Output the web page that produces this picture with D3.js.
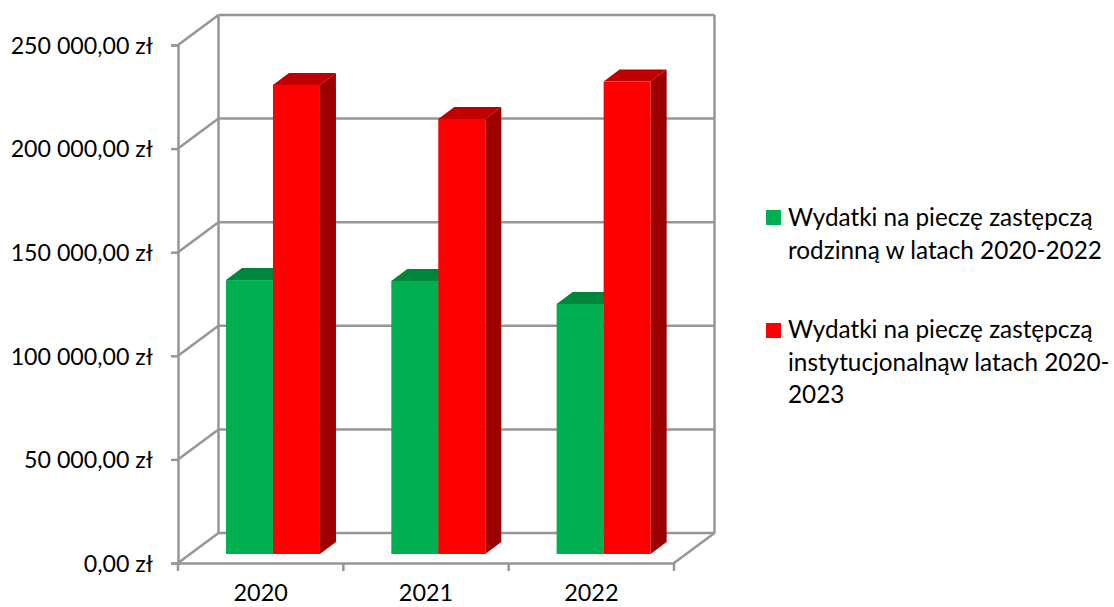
<!DOCTYPE html>
<html>
<head>
    <meta charset="utf-8">
    <title>Wydatki na pieczę zastępczą</title>
    <style>
        html, body { margin: 0; padding: 0; background: #fff; overflow: hidden; }
        text { font-family: Lato, "Open Sans", sans-serif; fill: #000; }
    </style>
</head>
<body>
<div id="chart"></div>
<script src="https://d3js.org/d3.v7.min.js"></script>
<script>
// values
var years = ["2020", "2021", "2022"]
var rodzinna = [132200, 131800, 120700]
var instytucjonalna = [226400, 210000, 228000]
var yTicks = [0, 50000, 100000, 150000, 200000, 250000]
var seriesNames = ["rodzinna", "instytucjonalna"]
var legendLines = [
    ["Wydatki na pieczę zastępczą", "rodzinną w latach 2020-2022"],
    ["Wydatki na pieczę zastępczą", "instytucjonalnąw latach 2020-", "2023"]
]

var width = 1114, height = 607
var gray = "#969696"
var colors = {
    rodzinna: {front: "#00b050", top: "#00853c", side: "#006f32"},
    instytucjonalna: {front: "#ff0000", top: "#c00000", side: "#9c0000"}
}
// 3d box offsets
var wall = {dx: 40.5, dy: -30}
var floor = {dx: 12.3, dy: -9}
var bar = {dx: 16, dy: -12}

var svg = d3.select("#chart").append("svg")
    .attr("width", width)
    .attr("height", height)

var x = d3.scaleBand().domain(years).range([178, 674])
var x1 = d3.scaleBand().domain(seriesNames).range([0, 94])
var y = d3.scaleLinear().domain([0, 250000]).range([563, 45])

var locale = d3.formatLocale({decimal: ",", thousands: "\u00a0", grouping: [3], currency: ["", ""]})
var money = locale.format(",.2f")

// back wall + left wall grid
var grid = svg.append("g").attr("fill", "none").attr("stroke", gray).attr("stroke-width", 2.5)
grid.selectAll(".back").data(yTicks).enter().append("line")
    .attr("x1", 178 + wall.dx).attr("x2", 674 + wall.dx)
    .attr("y1", function(d) { return y(d) + wall.dy })
    .attr("y2", function(d) { return y(d) + wall.dy })
grid.selectAll(".side").data(yTicks).enter().append("line")
    .attr("x1", 178).attr("x2", 178 + wall.dx)
    .attr("y1", function(d) { return y(d) })
    .attr("y2", function(d) { return y(d) + wall.dy })
grid.append("line")
    .attr("x1", 178 + wall.dx).attr("x2", 178 + wall.dx)
    .attr("y1", y(250000) + wall.dy).attr("y2", y(0) + wall.dy)
grid.append("line")
    .attr("x1", 674 + wall.dx).attr("x2", 674 + wall.dx)
    .attr("y1", y(250000) + wall.dy).attr("y2", y(0) + wall.dy)
grid.append("line")
    .attr("x1", 674).attr("x2", 674 + wall.dx)
    .attr("y1", y(0)).attr("y2", y(0) + wall.dy)

// axes
var yAxis = d3.axisLeft(y)
    .tickValues(yTicks)
    .tickSize(7)
    .tickPadding(18)
    .tickFormat(function(d) { return money(d) + "\u00a0zł" })
var xAxis = d3.axisBottom(x).tickSize(0).tickPadding(21)

var gy = svg.append("g").attr("transform", "translate(178,0)").call(yAxis)
var gx = svg.append("g").attr("transform", "translate(0,563)").call(xAxis)
gy.selectAll("line, path").attr("stroke", gray).attr("stroke-width", 2.5)
gx.selectAll("path").attr("stroke", gray).attr("stroke-width", 2.5)
gy.selectAll("text").style("font-size", "23.2px").attr("dy", "0.36em")
gx.selectAll("text").style("font-size", "23.4px")

// ticks between the categories on the x axis
svg.selectAll(".xtick").data(years.concat(["end"])).enter().append("line")
    .attr("x1", function(d, i) { return x.range()[0] + i * x.step() })
    .attr("x2", function(d, i) { return x.range()[0] + i * x.step() })
    .attr("y1", 563).attr("y2", 571)
    .attr("stroke", gray).attr("stroke-width", 2.5)

// bars, each as front + top + side
var rows = []
years.forEach(function(yr, i) {
    rows.push({year: yr, name: "rodzinna", value: rodzinna[i]})
    rows.push({year: yr, name: "instytucjonalna", value: instytucjonalna[i]})
})
function pts(a) { return a.map(function(p) { return p.join(",") }).join(" ") }
var bars = svg.selectAll(".bar").data(rows).enter().append("g")
    .attr("transform", function(d) {
        var groupLeft = x(d.year) + (x.bandwidth() - 94) / 2 + floor.dx
        return "translate(" + (groupLeft + x1(d.name)) + "," + floor.dy + ")"
    })
bars.append("polygon")
    .attr("fill", function(d) { return colors[d.name].top })
    .attr("points", function(d) {
        var w = x1.bandwidth(), t = y(d.value)
        return pts([[0, t], [bar.dx, t + bar.dy], [w + bar.dx, t + bar.dy], [w, t]])
    })
bars.append("polygon")
    .attr("fill", function(d) { return colors[d.name].side })
    .attr("points", function(d) {
        var w = x1.bandwidth(), t = y(d.value), b = y(0)
        return pts([[w, t], [w + bar.dx, t + bar.dy], [w + bar.dx, b + bar.dy], [w, b]])
    })
bars.append("rect")
    .attr("fill", function(d) { return colors[d.name].front })
    .attr("x", 0)
    .attr("y", function(d) { return y(d.value) })
    .attr("width", x1.bandwidth())
    .attr("height", function(d) { return y(0) - y(d.value) })

// legend
var legendTop = [210, 323]
var legendBase = [226, 338]
var legend = svg.selectAll(".legend").data(seriesNames).enter().append("g")
legend.append("rect")
    .attr("x", 766)
    .attr("y", function(d, i) { return legendTop[i] })
    .attr("width", 15).attr("height", 15)
    .attr("fill", function(d) { return colors[d].front })
legend.each(function(d, i) {
    d3.select(this).selectAll("text").data(legendLines[i]).enter().append("text")
        .attr("x", 788)
        .attr("y", function(t, j) { return legendBase[i] + j * 32.7 })
        .style("font-size", "24.3px")
        .text(function(t) { return t })
})
</script>
</body>
</html>
